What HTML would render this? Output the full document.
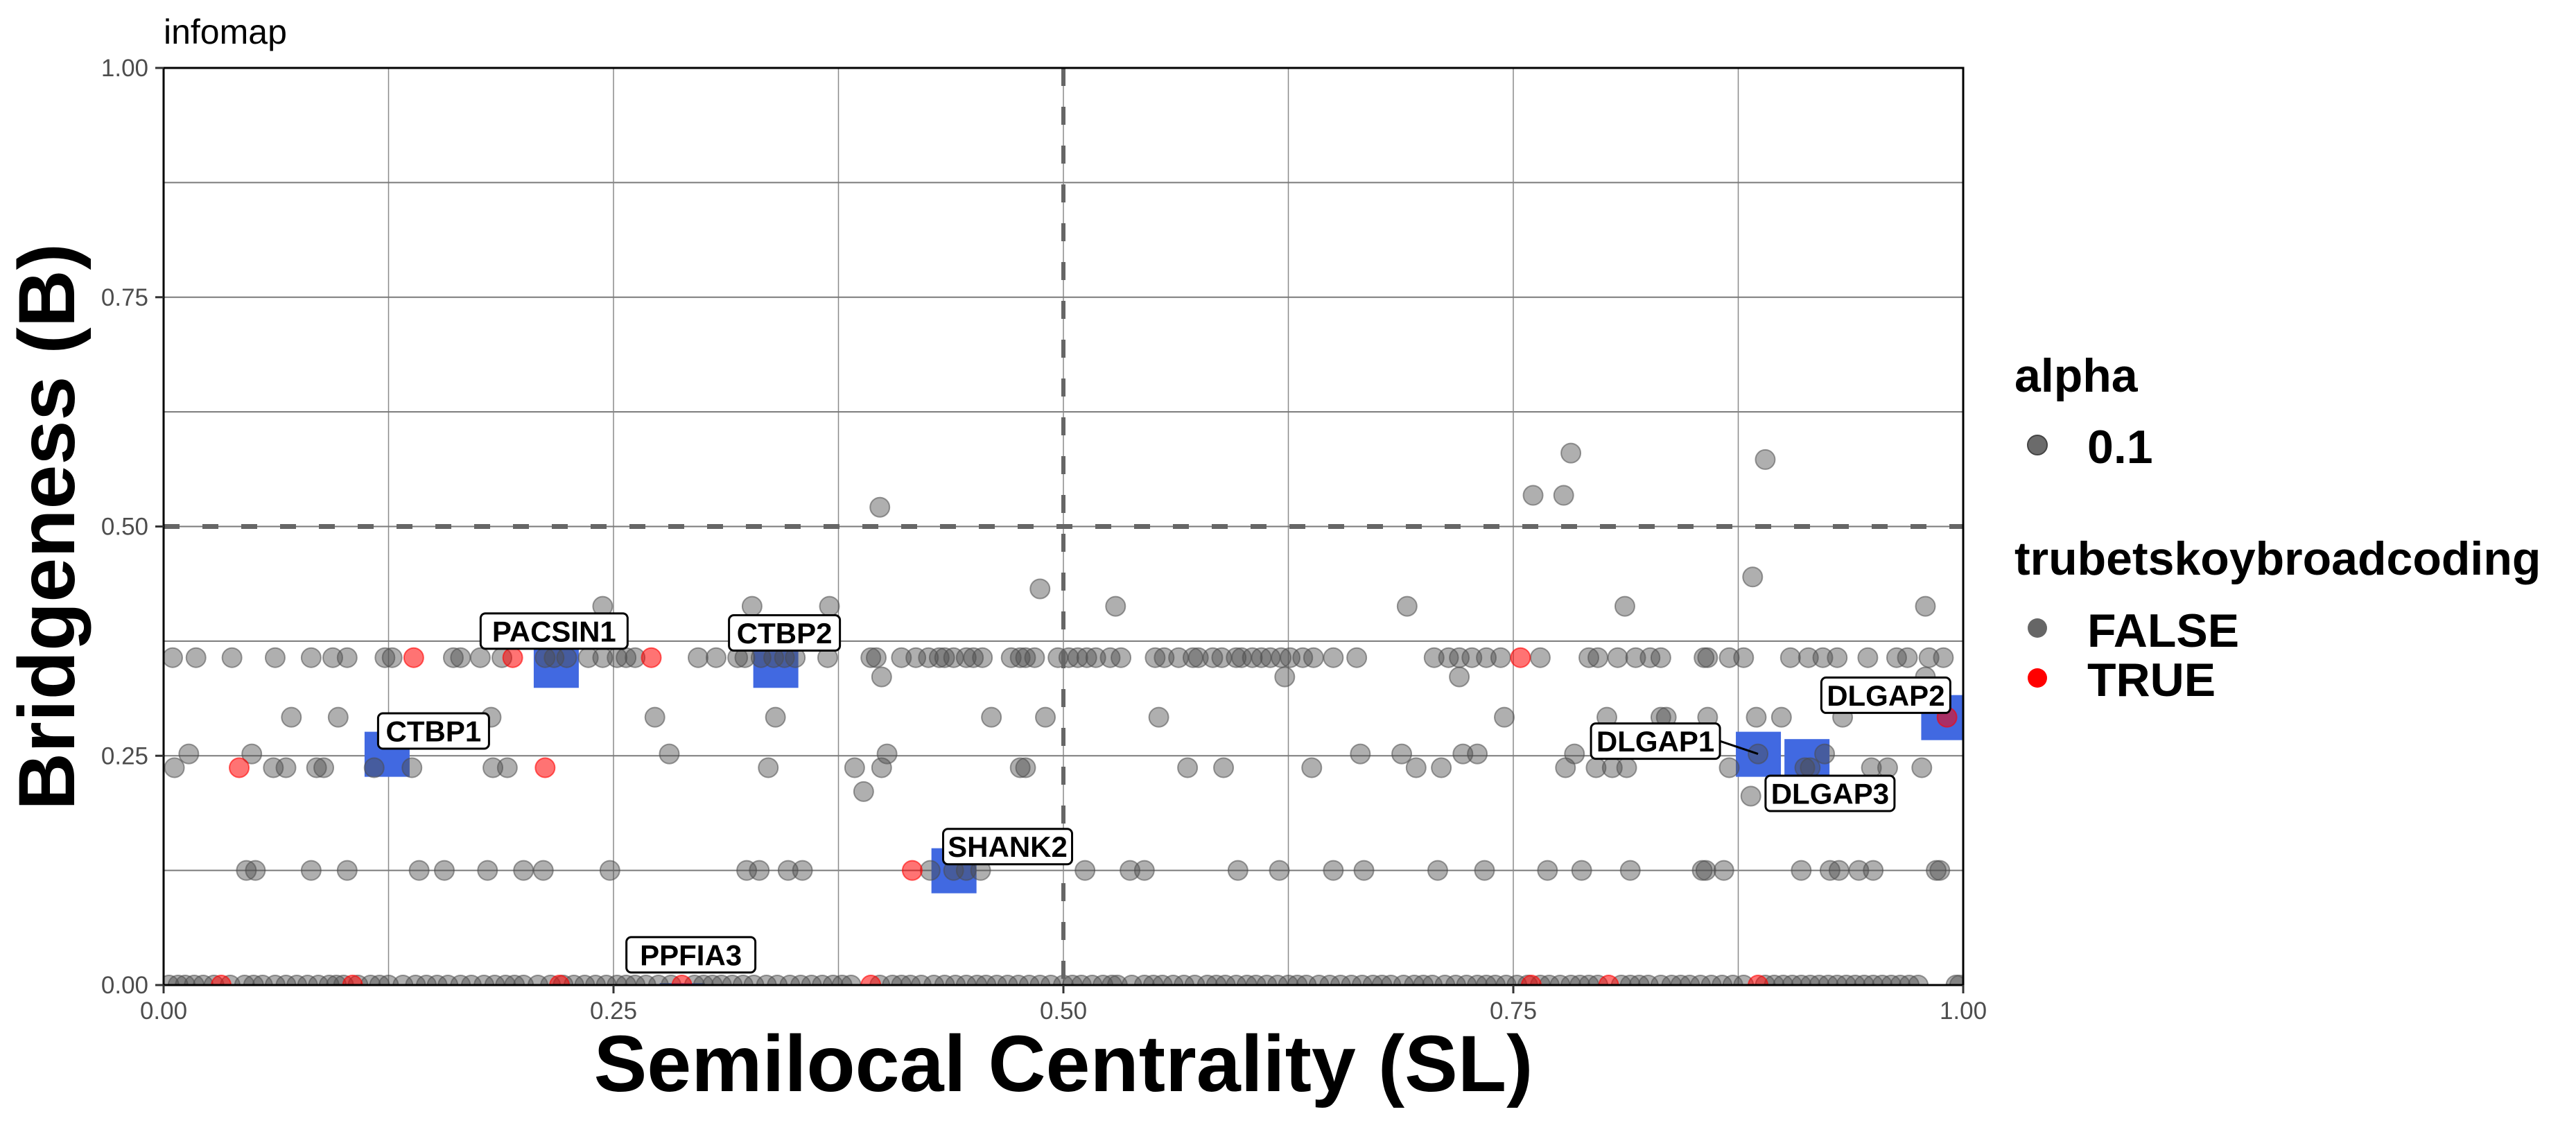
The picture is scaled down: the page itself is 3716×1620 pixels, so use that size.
<!DOCTYPE html>
<html><head><meta charset="utf-8"><style>
html,body{margin:0;padding:0;background:#fff;}
svg{display:block;font-family:"Liberation Sans",Arial,sans-serif;}
</style></head><body>
<svg id="chart" xmlns="http://www.w3.org/2000/svg" width="3716" height="1620" viewBox="0 0 3716 1620">
<defs><clipPath id="pclip"><rect x="236" y="98" width="2596" height="1323"/></clipPath></defs>
<rect x="0" y="0" width="3716" height="1620" fill="#fff"/>
<text x="236" y="63" font-size="50" fill="#000">infomap</text>
<g id="grid"></g>
<g id="marks" clip-path="url(#pclip)"></g>
<g id="labels"></g>
<rect x="236" y="98" width="2596" height="1323" fill="none" stroke="#000" stroke-width="3"/>
<g id="axes"></g>
<text x="1534" y="1574" font-size="115" font-weight="bold" text-anchor="middle">Semilocal Centrality (SL)</text>
<text transform="translate(107,760) rotate(-90)" font-size="115" font-weight="bold" text-anchor="middle">Bridgeness (B)</text>
<g>
<text x="2906" y="565" font-size="68" font-weight="bold">alpha</text>
<circle cx="2939" cy="642" r="14" fill="#6b6b6b" stroke="#444" stroke-width="2"/>
<text x="3011" y="668" font-size="68" font-weight="bold">0.1</text>
<text x="2906" y="829" font-size="68" font-weight="bold">trubetskoybroadcoding</text>
<circle cx="2939" cy="906" r="14" fill="#666"/>
<text x="3011" y="933" font-size="68" font-weight="bold">FALSE</text>
<circle cx="2939" cy="978" r="14" fill="#ff0000"/>
<text x="3011" y="1004" font-size="68" font-weight="bold">TRUE</text>
</g>
</svg>
<script>
const xTicks = [0, 0.25, 0.5, 0.75, 1];
const yTicks = [0, 0.25, 0.5, 0.75, 1];
const tickLabels = ["0.00", "0.25", "0.50", "0.75", "1.00"];
const minorTicks = [0.125, 0.375, 0.625, 0.875];

const falseX = [
0.005,0.018,0.038,0.062,0.082,0.094,0.102,0.123,0.127,0.161,0.165,0.176,0.188,0.212,0.217,0.224,0.236,0.244,0.252,0.257,0.262,0.297,0.307,0.319,0.323,0.332,0.339,0.345,0.351,0.369,0.393,0.396,0.41,0.418,0.425,0.431,0.434,0.439,0.446,0.45,0.455,0.471,0.476,0.479,0.484,0.497,
0.503,0.508,0.513,0.518,0.526,0.532,0.551,0.556,0.564,0.572,0.575,0.583,0.588,0.596,0.599,0.605,0.61,0.615,0.621,0.626,0.633,0.639,0.65,0.663,0.706,0.714,0.72,0.727,0.735,0.743,0.765,0.792,0.797,0.808,0.818,0.826,0.832,0.856,0.858,0.87,0.878,0.904,0.914,0.922,0.93,0.947,0.963,0.969,0.981,0.989,
0.399,0.623,0.72,0.979,
0.244,0.327,0.37,0.529,0.691,0.812,0.979,0.487,0.883,0.398,0.761,0.778,0.782,0.89,
0.071,0.097,0.182,0.273,0.34,0.46,0.49,0.553,0.745,0.802,0.832,0.835,0.858,0.885,0.899,0.933,
0.014,0.049,0.281,0.402,0.665,0.688,0.722,0.73,0.784,0.886,0.923,
0.006,0.061,0.068,0.085,0.089,0.117,0.138,0.183,0.191,0.336,0.384,0.399,0.476,0.479,0.569,0.589,0.638,0.696,0.71,0.779,0.796,0.805,0.813,0.87,0.912,0.915,0.949,0.958,0.977,
0.389,0.882,
0.046,0.051,0.082,0.102,0.142,0.156,0.18,0.2,0.211,0.248,0.324,0.331,0.347,0.355,0.426,0.439,0.446,0.454,0.512,0.537,0.545,0.597,0.62,0.65,0.667,0.708,0.734,0.769,0.788,0.815,0.855,0.857,0.867,0.91,0.926,0.931,0.942,0.95,0.985,0.987,
0.003,0.012,0.022,0.045,0.055,0.068,0.08,0.092,0.1,0.115,0.125,0.14,0.152,0.165,0.178,0.19,0.2,0.215,0.228,0.24,0.252,0.262,0.275,0.3,0.31,0.322,0.335,0.348,0.36,0.372,0.382,0.405,0.415,0.428,0.44,0.452,0.463,0.475,0.487,0.5,0.51,0.522,0.53,0.545,0.555,0.567,0.58,0.59,0.602,0.613,0.625,0.635,0.648,0.66,0.672,0.682,0.695,0.705,0.718,0.73,0.74,0.752,0.77,0.782,0.792,0.815,0.825,0.838,0.848,0.86,0.872,0.895,0.905,0.915,0.925,0.935,0.945,0.955,0.965,0.975,0.998,
0.008,0.017,0.028,0.037,0.05,0.062,0.074,0.086,0.096,0.108,0.12,0.133,0.146,0.158,0.171,0.184,0.195,0.208,0.222,0.234,0.246,0.257,0.268,0.282,0.295,0.305,0.316,0.328,0.341,0.354,0.366,0.377,0.398,0.41,0.421,0.434,0.446,0.457,0.469,0.481,0.493,0.505,0.516,0.527,0.538,0.55,0.561,0.573,0.585,0.596,0.607,0.619,0.63,0.642,0.654,0.666,0.677,0.689,0.7,0.712,0.724,0.735,0.746,0.758,0.765,0.776,0.787,0.797,0.81,0.82,0.832,0.843,0.854,0.866,0.878,0.89,0.9,0.91,0.92,0.93,0.94,0.95,0.96,0.97,0.996
];
const falseY = falseX.map((v,i) => 0);
const falseYRows = [
0.357,0.357,0.357,0.357,0.357,0.357,0.357,0.357,0.357,0.357,0.357,0.357,0.357,0.357,0.357,0.357,0.357,0.357,0.357,0.357,0.357,0.357,0.357,0.357,0.357,0.357,0.357,0.357,0.357,0.357,0.357,0.357,0.357,0.357,0.357,0.357,0.357,0.357,0.357,0.357,0.357,0.357,0.357,0.357,0.357,0.357,
0.357,0.357,0.357,0.357,0.357,0.357,0.357,0.357,0.357,0.357,0.357,0.357,0.357,0.357,0.357,0.357,0.357,0.357,0.357,0.357,0.357,0.357,0.357,0.357,0.357,0.357,0.357,0.357,0.357,0.357,0.357,0.357,0.357,0.357,0.357,0.357,0.357,0.357,0.357,0.357,0.357,0.357,0.357,0.357,0.357,0.357,0.357,0.357,0.357,0.357,
0.336,0.336,0.336,0.336,
0.413,0.413,0.413,0.413,0.413,0.413,0.413,0.432,0.445,0.521,0.534,0.534,0.58,0.573,
0.292,0.292,0.292,0.292,0.292,0.292,0.292,0.292,0.292,0.292,0.292,0.292,0.292,0.292,0.292,0.292,
0.252,0.252,0.252,0.252,0.252,0.252,0.252,0.252,0.252,0.252,0.252,
0.237,0.237,0.237,0.237,0.237,0.237,0.237,0.237,0.237,0.237,0.237,0.237,0.237,0.237,0.237,0.237,0.237,0.237,0.237,0.237,0.237,0.237,0.237,0.237,0.237,0.237,0.237,0.237,0.237,
0.211,0.206,
0.125,0.125,0.125,0.125,0.125,0.125,0.125,0.125,0.125,0.125,0.125,0.125,0.125,0.125,0.125,0.125,0.125,0.125,0.125,0.125,0.125,0.125,0.125,0.125,0.125,0.125,0.125,0.125,0.125,0.125,0.125,0.125,0.125,0.125,0.125,0.125,0.125,0.125,0.125,0.125
];
// remaining points (beyond falseYRows) sit on B = 0
falseYRows.forEach((v,i) => { falseY[i] = v; });

const trueX = [0.139,0.194,0.271,0.754,0.042,0.212,0.416,0.991,0.032,0.105,0.22,0.288,0.393,0.76,0.803,0.886];
const trueY = [0.357,0.357,0.357,0.357,0.237,0.237,0.125,0.292,0,0,0,0,0,0,0,0];

const geneNames = ["PACSIN1","CTBP2","CTBP1","SHANK2","DLGAP1","DLGAP3","DLGAP2","PPFIA3"];
const geneX = [0.218,0.34,0.124,0.439,0.886,0.913,0.989,0.288];
const geneY = [0.349,0.349,0.252,0.125,0.252,0.244,0.292,-0.022];
const labelX = [0.217,0.345,0.150,0.469,0.829,0.926,0.957,0.293];
const labelY = [0.386,0.384,0.277,0.151,0.266,0.209,0.316,0.033];

const NS = "http://www.w3.org/2000/svg";
const L = 236, R = 2832, T = 98, B = 1421;
function sx(v){ return L + v*(R-L); }
function sy(v){ return B - v*(B-T); }
function mk(tag, attrs, parent){
  const e = document.createElementNS(NS, tag);
  for (const k in attrs) e.setAttribute(k, attrs[k]);
  parent.appendChild(e);
  return e;
}
const grid = document.getElementById('grid');
const marks = document.getElementById('marks');
const labels = document.getElementById('labels');
const axes = document.getElementById('axes');

minorTicks.forEach(v => {
  const a = mk('line', {x1:sx(v),x2:sx(v),y1:T,y2:B,stroke:'#8a8a8a','stroke-width':1.5}, grid);
  
  
  const b = mk('line', {x1:L,x2:R,y1:sy(v),y2:sy(v),stroke:'#7a7a7a','stroke-width':2}, grid);
  
  
});
xTicks.forEach((v,i) => {
  const a = mk('line', {x1:sx(v),x2:sx(v),y1:T,y2:B,stroke:'#8a8a8a','stroke-width':1.5}, grid);
  
  
  const t = mk('line', {x1:sx(v),x2:sx(v),y1:B,y2:B+12,stroke:'#333','stroke-width':3}, axes);
  
  
  const lb = mk('text', {x:sx(v),y:1470,'font-size':35,'text-anchor':'middle',fill:'#4d4d4d'}, axes);
  lb.textContent = tickLabels[i];
  
  
});
yTicks.forEach((v,i) => {
  const a = mk('line', {x1:L,x2:R,y1:sy(v),y2:sy(v),stroke:'#7a7a7a','stroke-width':2}, grid);
  
  
  const t = mk('line', {x1:L-12,x2:L,y1:sy(v),y2:sy(v),stroke:'#333','stroke-width':3}, axes);
  
  
  const lb = mk('text', {x:L-22,y:sy(v)+12,'font-size':35,'text-anchor':'end',fill:'#4d4d4d'}, axes);
  lb.textContent = tickLabels[i];
  
  
});

geneX.forEach((v,i) => {
  const s = mk('rect', {x:sx(v)-32,y:sy(geneY[i])-32,width:65,height:65,fill:'#4169E1'}, marks);
  
  
});
falseX.forEach((v,i) => {
  const c = mk('circle', {cx:sx(v),cy:sy(falseY[i]),r:14,fill:'#4d4d4d','fill-opacity':0.45,stroke:'#4d4d4d','stroke-opacity':0.55,'stroke-width':2}, marks);
  
  
});
trueX.forEach((v,i) => {
  const c = mk('circle', {cx:sx(v),cy:sy(trueY[i]),r:14,fill:'#ff0000','fill-opacity':0.55,stroke:'#ff0000','stroke-opacity':0.6,'stroke-width':2}, marks);
  
  
});
const vdash = mk('line', {x1:sx(0.5),x2:sx(0.5),y1:T,y2:B,stroke:'#666','stroke-width':6,'stroke-dasharray':'26 30'}, marks);


const hdash = mk('line', {x1:L,x2:R,y1:sy(0.5),y2:sy(0.5),stroke:'#666','stroke-width':7,'stroke-dasharray':'23 33'}, marks);



geneNames.forEach((n,i) => {
  const cx = sx(labelX[i]), cy = sy(labelY[i]);
  const w = n.length*26 + 30, h = 51;
  if (n === "DLGAP1") {
    const seg = mk('line', {x1:cx+w/2,x2:sx(geneX[i]),y1:cy,y2:sy(geneY[i]),stroke:'#000','stroke-width':3}, labels);
    
    
  }
  const r = mk('rect', {x:cx-w/2,y:cy-h/2,width:w,height:h,rx:7,fill:'#fff',stroke:'#000','stroke-width':3}, labels);
  
  
  const t = mk('text', {x:cx,y:cy+15,'font-size':42,'font-weight':'bold','text-anchor':'middle'}, labels);
  t.textContent = n;
  
  
});
</script>
</body></html>
